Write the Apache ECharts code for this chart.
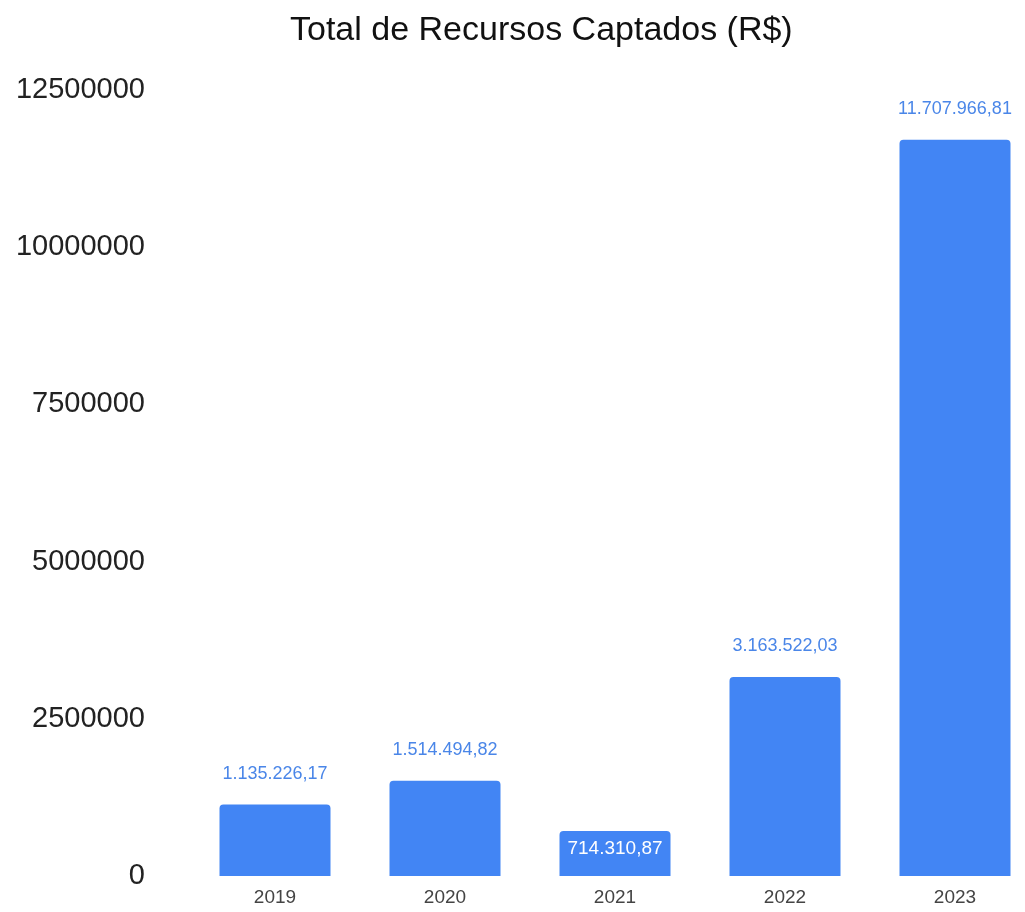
<!DOCTYPE html>
<html>
<head>
<meta charset="utf-8">
<script src="https://cdn.jsdelivr.net/npm/echarts@6/dist/echarts.min.js"></script>
<style>
  html, body { margin: 0; padding: 0; background: #fff; overflow: hidden; }
  /* a área do gráfico passa um pouco da janela, como no original */
  #chart { width: 1040px; height: 912px; }
</style>
</head>
<body>
<div id="chart"></div>
<script>
// dados do gráfico
var anos = ['2019', '2020', '2021', '2022', '2023'];
var valores = [1135226.17, 1514494.82, 714310.87, 3163522.03, 11707966.81];

// formata no padrão brasileiro: 1.135.226,17
function formatBR(v) {
  var parts = v.toFixed(2).split('.');
  var inteiro = parts[0].replace(/\B(?=(\d{3})+(?!\d))/g, '.');
  return inteiro + ',' + parts[1];
}

var chart = echarts.init(document.getElementById('chart'));

var dados = valores.map(function (v) {
  var item = { value: v };
  // barra pequena: rótulo dentro, em branco
  if (v < 1000000) {
    item.label = {
      position: 'insideTop',
      distance: 8,
      color: '#ffffff',
      fontSize: 19
    };
  }
  return item;
});

var option = {
  animation: false,
  title: {
    text: 'Total de Recursos Captados (R$)',
    left: 285,
    top: 9,
    textStyle: {
      fontFamily: 'Arial, Liberation Sans, sans-serif',
      fontSize: 34,
      fontWeight: 'normal',
      color: '#111'
    }
  },
  grid: {
    left: 190,
    right: 0,
    top: 90,
    bottom: 36
  },
  xAxis: {
    type: 'category',
    data: anos,
    axisLine: { show: false },
    axisTick: { show: false },
    axisLabel: {
      margin: 12,
      fontFamily: 'Arial, Liberation Sans, sans-serif',
      fontSize: 19,
      color: '#444'
    }
  },
  yAxis: {
    type: 'value',
    min: 0,
    max: 12500000,
    interval: 2500000,
    splitLine: { show: false },
    axisLine: { show: false },
    axisTick: { show: false },
    axisLabel: {
      margin: 45,
      fontFamily: 'Arial, Liberation Sans, sans-serif',
      fontSize: 29,
      color: '#222',
      formatter: function (v) { return String(v); }
    }
  },
  series: [{
    type: 'bar',
    data: dados,
    barWidth: 111,
    itemStyle: {
      color: '#4285F4',
      borderRadius: [4, 4, 0, 0]
    },
    label: {
      show: true,
      position: 'top',
      distance: 22,
      fontFamily: 'Arial, Liberation Sans, sans-serif',
      fontSize: 18,
      color: '#4a86e8',
      formatter: function (p) { return formatBR(p.value); }
    }
  }]
};

chart.setOption(option);
</script>
</body>
</html>
